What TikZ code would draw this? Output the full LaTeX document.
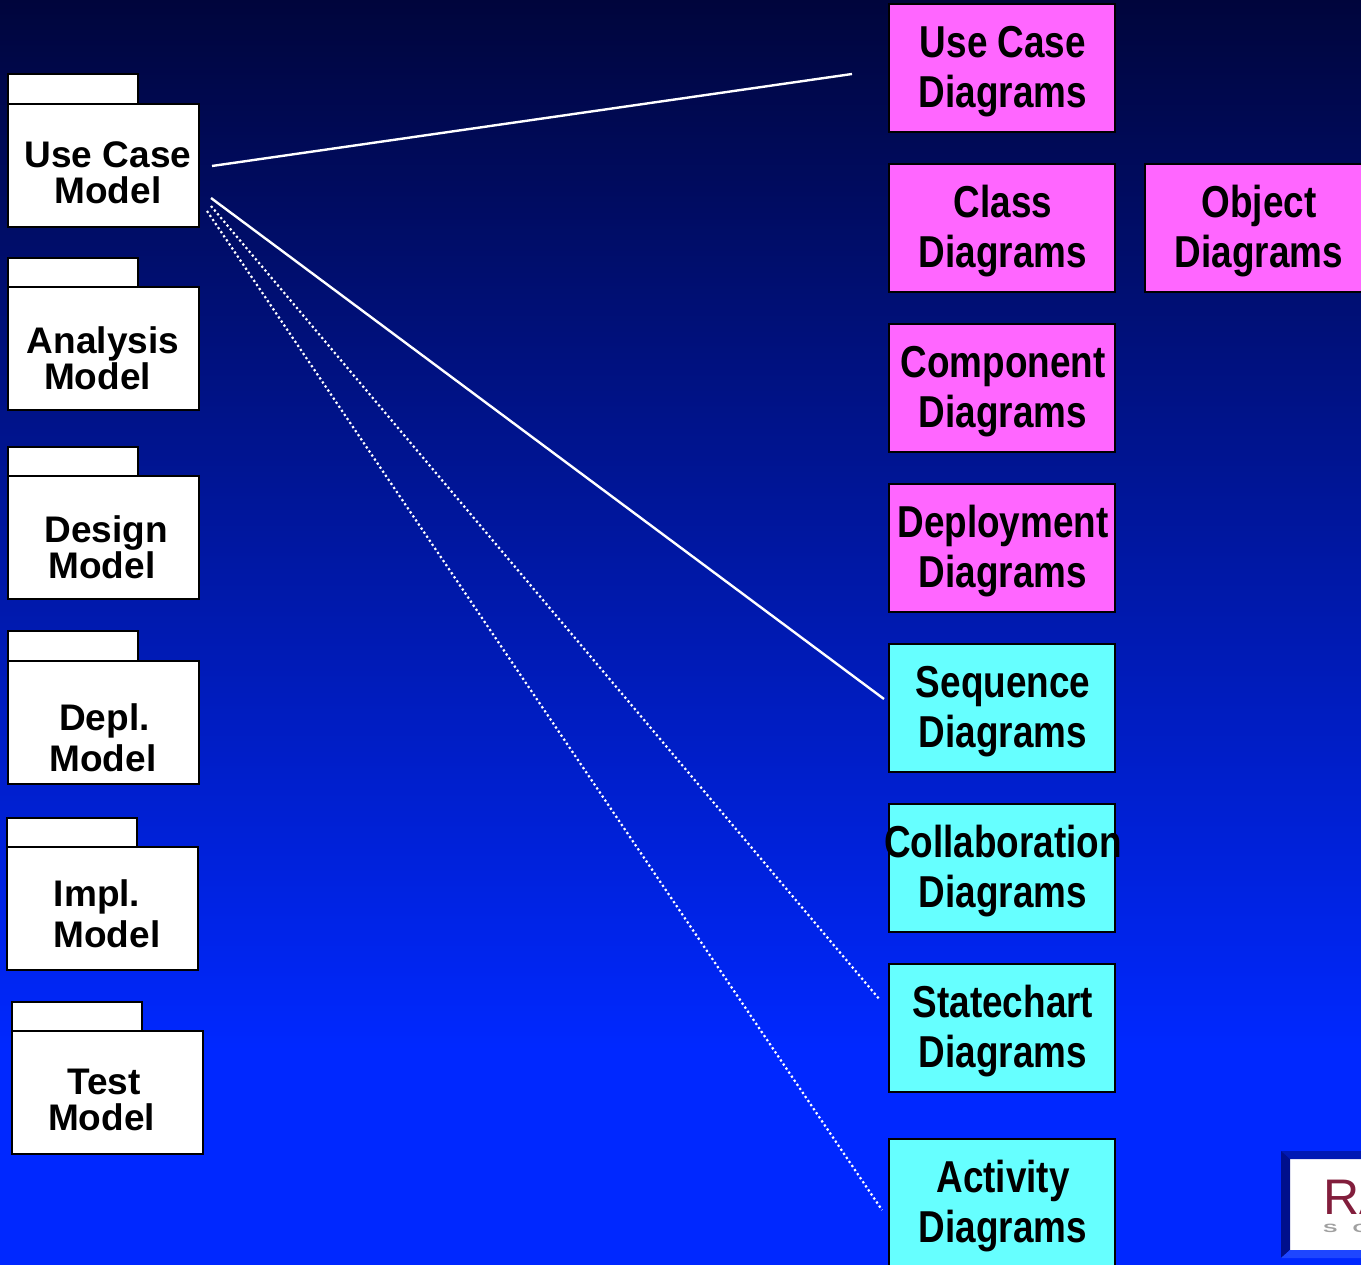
\documentclass[tikz,border=0pt]{standalone}
\usepackage{fontspec}
\setmainfont{Liberation Sans}[BoldFont={Liberation Sans Bold}]
\newfontfamily\pkgfont{Liberation Sans Bold}
\newfontfamily\diafont{Liberation Sans Bold}[FakeStretch=0.825]
\newfontfamily\logofont{Liberation Sans}
\definecolor{bgtop}{RGB}{0,5,60}
\definecolor{bgbot}{RGB}{0,40,255}
\definecolor{diapink}{RGB}{255,102,255}
\definecolor{diacyan}{RGB}{102,255,255}
\definecolor{logored}{RGB}{130,30,60}
\definecolor{logogrey}{RGB}{160,160,160}
\tikzset{
  x=1pt,y=-1pt,
  pkgbox/.style={draw=black,line width=2pt,fill=white,rectangle,inner sep=0pt,outer sep=0pt,minimum width=191pt,minimum height=123pt,anchor=north west},
  pkgtab/.style={draw=black,line width=2pt,fill=white,rectangle,inner sep=0pt,outer sep=0pt,minimum width=130pt,minimum height=30pt,anchor=north west},
  pkgtext/.style={font=\fontsize{37}{36}\pkgfont,align=center,text=black,inner sep=0pt,anchor=center},
  pkgtextwide/.style={font=\fontsize{37}{40.5}\pkgfont,align=center,text=black,inner sep=0pt,anchor=center},
  diabox/.style={draw=black,line width=2pt,rectangle,inner sep=0pt,outer sep=0pt,minimum width=226pt,minimum height=128pt,anchor=north west},
  diatext/.style={font=\fontsize{44.7}{50}\diafont,align=center,text=black,inner sep=0pt,anchor=center},
  solidlink/.style={draw=white,line width=2.4pt},
  dotlink/.style={draw=white,line width=2.2pt,dash pattern=on 2.2pt off 2.7pt},
}
\begin{document}
\begin{tikzpicture}
\useasboundingbox (0,0) rectangle (1361,1265);
\clip (0,0) rectangle (1361,1265);
\fill[bgbot] (0,1050) rectangle (1361,1265);
\shade[top color=bgtop,bottom color=bgbot,shading angle=0] (0,0) rectangle (1361,1050.5);

% packages
\node[pkgtab] (t1) at (8,74) {};
\node[pkgbox] (b1) at (8,104) {};
\node[pkgtext] (l1) at (108,172.5) {Use Case\\Model};
\node[pkgtab] (t2) at (8,258) {};
\node[pkgbox] (b2) at (8,287) {};
\node[pkgtext] (l2) at (103,358.5) {Analysis\\\hspace*{-11pt}Model};
\node[pkgtab] (t3) at (8,447) {};
\node[pkgbox] (b3) at (8,476) {};
\node[pkgtext] (l3) at (106,547.5) {Design\\\hspace*{-8pt}Model};
\node[pkgtab] (t4) at (8,631) {};
\node[pkgbox] (b4) at (8,661) {};
\node[pkgtextwide] (l4) at (103,738) {\hspace*{3pt}Depl.\\Model};
\node[pkgtab] (t5) at (7,818) {};
\node[pkgbox] (b5) at (7,847) {};
\node[pkgtextwide] (l5) at (107,914) {\hspace*{-20pt}Impl.\\Model};
\node[pkgtab] (t6) at (12,1002) {};
\node[pkgbox] (b6) at (12,1031) {};
\node[pkgtext] (l6) at (104,1100) {Test\\\hspace*{-5pt}Model};

% diagram boxes
\node[diabox,fill=diapink] (d1) at (889,4) {};
\node[diatext] at ([xshift=1pt,yshift=-3.5pt]d1.center) {Use Case\\Diagrams};
\node[diabox,fill=diapink] (d2) at (889,164) {};
\node[diatext] at ([xshift=1pt,yshift=-3.5pt]d2.center) {Class\\Diagrams};
\node[diabox,fill=diapink] (d9) at (1145,164) {};
\node[diatext] at (1259,231.5) {Object\\Diagrams};
\node[diabox,fill=diapink] (d3) at (889,324) {};
\node[diatext] at ([xshift=1pt,yshift=-3.5pt]d3.center) {Component\\Diagrams};
\node[diabox,fill=diapink] (d4) at (889,484) {};
\node[diatext] at ([xshift=1pt,yshift=-3.5pt]d4.center) {Deployment\\Diagrams};
\node[diabox,fill=diacyan] (d5) at (889,644) {};
\node[diatext] at ([xshift=1pt,yshift=-3.5pt]d5.center) {Sequence\\Diagrams};
\node[diabox,fill=diacyan] (d6) at (889,804) {};
\node[diatext] at ([xshift=1pt,yshift=-3.5pt]d6.center) {Collaboration\\Diagrams};
\node[diabox,fill=diacyan] (d7) at (889,964) {};
\node[diatext] at ([xshift=1pt,yshift=-3.5pt]d7.center) {Statechart\\Diagrams};
\node[diabox,fill=diacyan] (d8) at (889,1139) {};
\node[diatext] at ([xshift=1pt,yshift=-3.5pt]d8.center) {Activity\\Diagrams};

% connectors (free ends)
\coordinate (s1) at (212,166); \coordinate (e1) at (852,74);
\coordinate (s2) at (211,198); \coordinate (e2) at (884,699);
\coordinate (s3) at (211,206); \coordinate (e3) at (880,1000);
\coordinate (s4) at (207,211); \coordinate (e4) at (882,1210);
\draw[solidlink] (s1) -- (e1);
\draw[solidlink] (s2) -- (e2);
\draw[dotlink] (s3) -- (e3);
\draw[dotlink] (s4) -- (e4);

% logo
\fill[white] (1290,1159) rectangle (1361,1250);
\fill[fill={rgb,255:red,0;green,25;blue,180}] (1281,1151) -- (1361,1151) -- (1361,1159) -- (1290,1159) -- cycle;
\fill[fill={rgb,255:red,0;green,15;blue,140}] (1281,1151) -- (1290,1159) -- (1290,1250) -- (1281,1258) -- cycle;
\fill[fill={rgb,255:red,30;green,70;blue,255}] (1281,1258) -- (1290,1250) -- (1361,1250) -- (1361,1258) -- cycle;
\node[font=\fontsize{50}{50}\logofont,text=logored,anchor=base west,inner sep=0pt] (logoa) at (1323,1214) {RA};
\node[font=\fontsize{12}{12}\pkgfont,text=logogrey,anchor=base west,inner sep=0pt] (logob) at (1323,1232) {\scalebox{1.8}[1]{S}\hspace{15pt}\scalebox{1.8}[1]{O}};
\end{tikzpicture}
\end{document}
